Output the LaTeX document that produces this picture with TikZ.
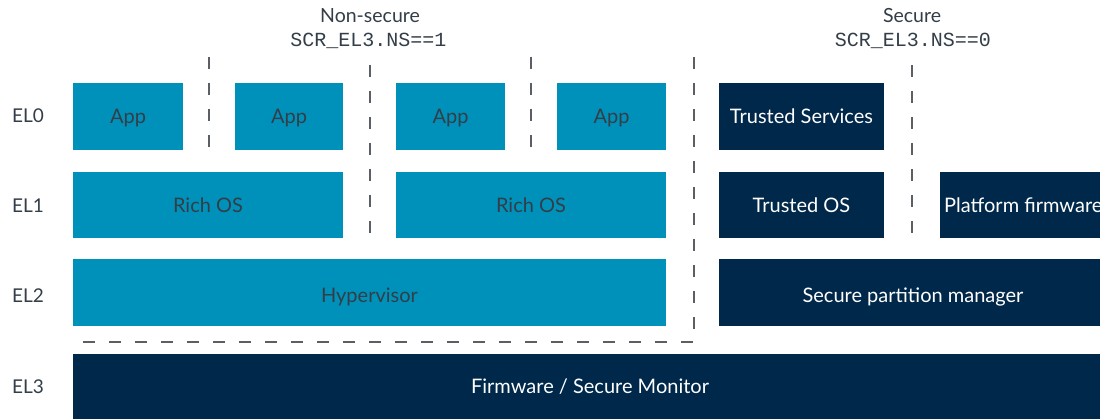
\documentclass[tikz,border=0pt]{standalone}
\usepackage{fontspec}
\setmainfont{Lato}
\setmonofont{Liberation Mono}
\definecolor{armblue}{HTML}{0091BA}
\definecolor{armnavy}{HTML}{00284A}
\definecolor{txtgray}{HTML}{333E48}
\definecolor{dashgray}{HTML}{5A5F66}
\begin{document}
\begin{tikzpicture}[x=1pt,y=-1pt,
  capc/.style={text height=14.4pt, text depth=0pt},
  ns/.style={fill=armblue, draw=none, text=txtgray, font=\fontsize{20}{22}\selectfont, inner sep=0pt, capc},
  sec/.style={fill=armnavy, draw=none, text=white, font=\fontsize{20}{22}\selectfont, inner sep=0pt, capc},
  ellab/.style={text=txtgray, font=\fontsize{19}{21}\selectfont, inner sep=0pt, text height=13.7pt, text depth=0pt},
  hdr/.style={text=txtgray, font=\fontsize{19.5}{21}\selectfont, inner sep=0pt},
  hdrm/.style={text=txtgray, font=\ttfamily\fontsize{20}{22}\selectfont, inner sep=0pt},
  wtxt/.style={text=white, font=\fontsize{20}{22}\selectfont, inner sep=0pt, capc},
  gtxt/.style={text=txtgray, font=\fontsize{20}{22}\selectfont, inner sep=0pt, capc},
  sep/.style={draw=dashgray, line width=1.4pt, dash pattern=on 12pt off 14pt}]
\useasboundingbox (0,0) rectangle (1100,419);
\fill[white] (0,0) rectangle (1100,419);
% headers
\node[hdr] (hns) at (370,16) {Non-secure};
\node[hdrm] (hnsm) at (368.5,41) {SCR\_EL3.NS==1};
\node[hdr] (hs) at (912,16) {Secure};
\node[hdrm] (hsm) at (913,41) {SCR\_EL3.NS==0};
% EL labels
\node[ellab] (el0) at (28,116) {EL0};
\node[ellab] (el1) at (28,206) {EL1};
\node[ellab] (el2) at (28,296) {EL2};
\node[ellab] (el3) at (28,387) {EL3};
% EL0
\node[ns, minimum width=110, minimum height=67] (app1) at (128,116.5) {App};
\node[ns, minimum width=108, minimum height=67] (app2) at (289,116.5) {App};
\node[ns, minimum width=109, minimum height=67] (app3) at (450.5,116.5) {App};
\node[ns, minimum width=109, minimum height=67] (app4) at (611.5,116.5) {App};
\node[sec, minimum width=165, minimum height=67] (ts) at (801.5,116.5) {Trusted Services};
% EL1
\node[ns, minimum width=270, minimum height=66] (ros1) at (208,205) {Rich OS};
\node[ns, minimum width=270, minimum height=66] (ros2) at (531,205) {Rich OS};
\node[sec, minimum width=165, minimum height=66] (tos) at (801.5,205) {Trusted OS};
\node[sec, minimum width=175, minimum height=66, anchor=west] (pf) at (940,205) {};
\node[wtxt, anchor=west] (pft) at (944,205) {Platform firmware};
% EL2
\node[ns, minimum width=593, minimum height=67] (hyp) at (369.5,293) {};
\node[gtxt] (hypt) at (369.5,295.5) {Hypervisor};
\node[sec, minimum width=381, minimum height=67, anchor=west] (spm) at (719,293) {};
\node[wtxt] (spmt) at (913,295.5) {Secure partition manager};
% EL3
\node[sec, minimum width=1027, minimum height=70, anchor=north west] (fw) at (73,354) {};
\node[wtxt] (fwt) at (590,386.5) {Firmware / Secure Monitor};
% separators
\draw[sep] (209,57) -- (209,150);
\draw[sep] (370,65) -- (370,238);
\draw[sep] (531,57) -- (531,150);
\draw[sep] (694,57) -- (694,342) -- (73,342);
\draw[sep] (912,65) -- (912,238);
\end{tikzpicture}
\end{document}
